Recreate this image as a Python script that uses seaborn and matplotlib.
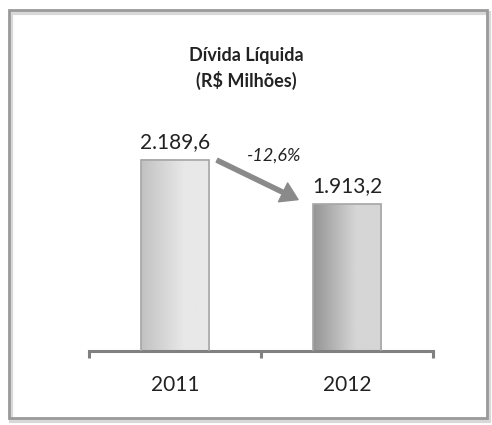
import numpy as np
import pandas as pd
import matplotlib
matplotlib.use("Agg")
import matplotlib.pyplot as plt
from matplotlib.patches import Rectangle, FancyArrowPatch
import seaborn as sns

years = ["2011", "2012"]
divida = [2189.6, 1913.2]
labels = ["2.189,6", "1.913,2"]
variacao = "-12,6%"

sns.set_style("white")
plt.rcParams['font.family'] = ['Lato', 'DejaVu Sans']

df = pd.DataFrame({"ano": years, "valor": divida})

fig = plt.figure(figsize=(4.92, 4.25), dpi=100)
ax = fig.add_axes([0.181, 0.174, 0.699, 0.567])

sns.barplot(data=df, x="ano", y="valor", ax=ax, width=0.4,
            color="#d0d0d0", edgecolor="#a6a6a6", linewidth=1.2)
ax.set_xlim(-0.5, 1.5)
ax.set_ylim(1000, 2500)

# gradient fill on each bar
grads = [("#c2c2c2", "#e8e8e8"), ("#959595", "#d6d6d6")]
for p, (c0, c1) in zip(ax.patches, grads):
    x0, w, top = p.get_x(), p.get_width(), p.get_height()
    a = np.array(matplotlib.colors.to_rgb(c0))
    b = np.array(matplotlib.colors.to_rgb(c1))
    t = np.linspace(0, 1, 50)
    t = np.minimum(1, 1.6 * t)
    img = a[None, :] * (1 - t[:, None]) + b[None, :] * t[:, None]
    img = img[None, :, :]
    ax.imshow(img, extent=[x0, x0 + w, 1000, top], aspect="auto", zorder=2.5)
    p.set_facecolor("none")
    p.set_zorder(3)

for i, (v, lab) in enumerate(zip(divida, labels)):
    ax.text(i, v + 50, lab, ha="center", va="bottom", fontsize=15, color="#222222")

ax.set_xlim(-0.5, 1.5)
ax.set_ylim(1000, 2500)

arrow = FancyArrowPatch((0.23, 2195), (0.73, 1935), arrowstyle="simple,head_width=1.0,head_length=0.8",
                        mutation_scale=15, color="#8a8a8a", zorder=4)
ax.add_patch(arrow)
ax.text(0.575, 2215, variacao, ha="center", va="center", fontsize=13,
        style="italic", color="#222222")

ax.set_xlabel("")
ax.set_ylabel("")
ax.set_yticks([])
for s in ["left", "right", "top"]:
    ax.spines[s].set_visible(False)
ax.spines["bottom"].set_color("#808080")
ax.spines["bottom"].set_linewidth(2.2)
ax.set_xticks([0, 1])
ax.set_xticks([-0.5, 0.5, 1.5], minor=True)
ax.tick_params(axis="x", which="major", length=0, pad=17, labelsize=15, labelcolor="#222222")
ax.tick_params(axis="x", which="minor", length=5, width=2.2, color="#808080", direction="out", bottom=True)

fig.text(0.5, 0.870, "Dívida Líquida", ha="center", va="center", fontsize=13, fontweight="bold", color="#222222")
fig.text(0.5, 0.810, "(R$ Milhões)", ha="center", va="center", fontsize=13, fontweight="bold", color="#222222")

# outer frame with shadow
fig.patches.append(Rectangle((11 / 492, 4 / 425), 478 / 492, 408 / 425, transform=fig.transFigure,
                             fill=False, edgecolor="#d8d8d8", linewidth=3))
fig.patches.append(Rectangle((9 / 492, 7 / 425), 478 / 492, 408 / 425, transform=fig.transFigure,
                             fill=False, edgecolor="#9a9a9a", linewidth=2))

fig.savefig("out.png", dpi=100)
